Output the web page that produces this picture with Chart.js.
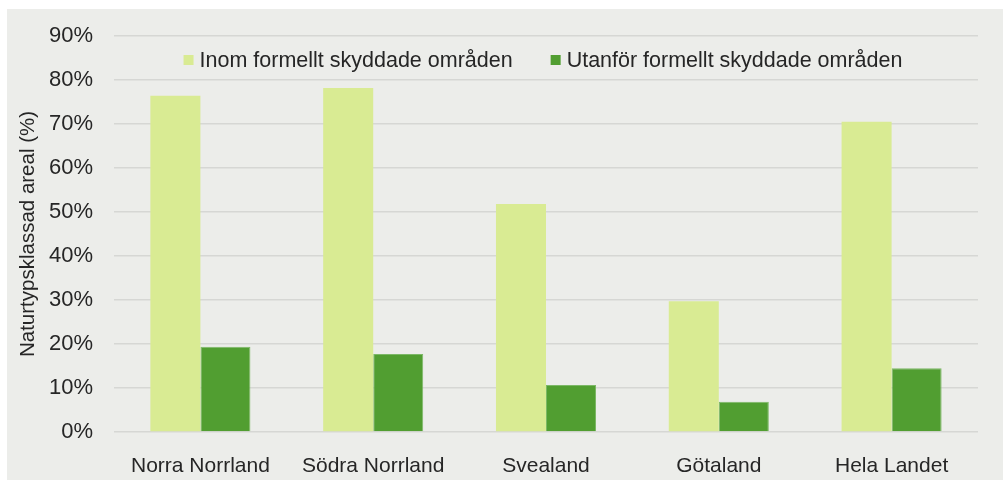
<!DOCTYPE html>
<html>
<head>
<meta charset="utf-8">
<script src="https://cdn.jsdelivr.net/npm/chart.js@4.4.1/dist/chart.umd.min.js"></script>
<style>
    body { margin: 0; background: #fff; }
    #panel { position: absolute; left: 7px; top: 9px; width: 996px; height: 471px; background: #ecedea; }
</style>
</head>
<body>
<div id="panel"><canvas id="skyddChart"></canvas></div>
<script>
    const regions = ['Norra Norrland', 'Södra Norrland', 'Svealand', 'Götaland', 'Hela Landet'];
    const inomValues = [76.4, 78.2, 51.8, 29.7, 70.5];
    const utanforValues = [19.4, 17.7, 10.7, 6.9, 14.5];
    const seriesNames = ['Inom formellt skyddade områden', 'Utanför formellt skyddade områden'];

    const fontFamily = '"Liberation Sans", Arial, sans-serif';
    const textColor = '#262626';

    // legend drawn inside the plot, between the 80% and 90% lines
    const innerLegend = {
        id: 'innerLegend',
        afterDraw(chart) {
            const ctx = chart.ctx;
            const area = chart.chartArea;
            ctx.save();
            ctx.font = '21.5px ' + fontFamily;
            ctx.textBaseline = 'middle';
            const box = 10, gap = 6, spacing = 38;
            const widths = chart.data.datasets.map(ds => box + gap + ctx.measureText(ds.label).width);
            const total = widths.reduce((a, b) => a + b, 0) + spacing * (widths.length - 1);
            let x = (area.left + area.right) / 2 - total / 2 - 3;
            const y = area.top + 24;
            chart.data.datasets.forEach((ds, i) => {
                ctx.fillStyle = ds.backgroundColor;
                ctx.fillRect(x, y - box / 2, box, box);
                ctx.fillStyle = textColor;
                ctx.fillText(ds.label, x + box + gap, y + 1);
                x += widths[i] + spacing;
            });
            ctx.restore();
        }
    };

    const ctx = document.getElementById('skyddChart').getContext('2d');
    new Chart(ctx, {
        type: 'bar',
        data: {
            labels: regions,
            datasets: [{
                label: seriesNames[0],
                data: inomValues,
                backgroundColor: '#d9eb93',
                borderWidth: 0
            }, {
                label: seriesNames[1],
                data: utanforValues,
                backgroundColor: '#519e31',
                borderColor: '#7cb866',
                borderWidth: 1
            }]
        },
        options: {
            responsive: true,
            maintainAspectRatio: false,
            animation: false,
            layout: { padding: { top: 27, right: 25, left: 0, bottom: 0 } },
            datasets: { bar: { barPercentage: 1, categoryPercentage: 0.579 } },
            plugins: {
                legend: { display: false },
                tooltip: { enabled: false }
            },
            scales: {
                x: {
                    grid: { display: false },
                    border: { display: false },
                    ticks: { color: textColor, font: { family: fontFamily, size: 21 }, padding: 14, maxRotation: 0 },
                    afterFit: scale => { scale.height = 48; scale.paddingLeft = 0; scale.paddingRight = 0; }
                },
                y: {
                    min: 0,
                    max: 90,
                    ticks: {
                        stepSize: 10,
                        color: textColor,
                        font: { family: fontFamily, size: 22 },
                        padding: 21,
                        callback: v => v + '%'
                    },
                    grid: { color: '#d6d7d4', lineWidth: 1.5, drawTicks: false },
                    border: { display: false },
                    title: {
                        display: true,
                        text: 'Naturtypsklassad areal (%)',
                        color: textColor,
                        font: { family: fontFamily, size: 20.5 },
                        padding: { top: 9, bottom: 0 }
                    },
                    afterFit: scale => { scale.width = 107; scale.paddingTop = 0; scale.paddingBottom = 0; }
                }
            }
        },
        plugins: [innerLegend]
    });
</script>
</body>
</html>
